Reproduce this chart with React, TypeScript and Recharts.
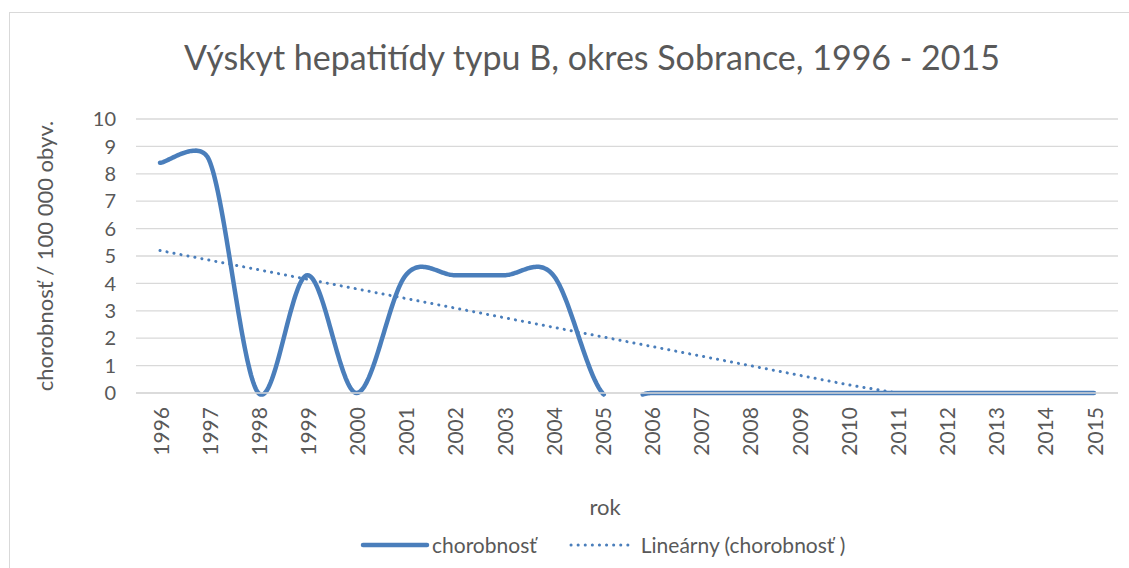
import { CartesianGrid, Label, Line, LineChart, XAxis, YAxis } from 'recharts';

const roky = [
  '1996', '1997', '1998', '1999', '2000', '2001', '2002', '2003', '2004', '2005',
  '2006', '2007', '2008', '2009', '2010', '2011', '2012', '2013', '2014', '2015',
];
const chorobnost = [8.4, 8.5, 0, 4.3, 0, 4.3, 4.3, 4.3, 4.3, 0, 0, 0, 0, 0, 0, 0, 0, 0, 0, 0];
// linear trend as drawn; below zero it is hidden by the axis
const trend = [
  5.2, 4.85, 4.5, 4.15, 3.8, 3.45, 3.1, 2.75, 2.4, 2.05,
  1.7, 1.35, 1.0, 0.65, 0.3, 0, null, null, null, null,
];
const yTicks = [0, 1, 2, 3, 4, 5, 6, 7, 8, 9, 10];

const data = roky.map((rok, i) => ({ rok, chorobnost: chorobnost[i], trend: trend[i] }));

const W = 1129;
const H = 568;
const PLOT_TOP = 119;
const PLOT_BOTTOM = 393;
const PLOT_LEFT = 136;
const PLOT_RIGHT = 1118;
const Y_AXIS_W = 60;
const X_AXIS_H = 60;

const FONT = 'Lato, "Open Sans", sans-serif';
const TEXT = '#595959';
const BLUE = '#4a7ebb';
const GRID = '#d9d9d9';

type Pt = [number, number];

function ctrl(p: Pt, prev: Pt, next: Pt, seg: number, dir: number): Pt {
  let tx = (next[0] - prev[0]) / 6;
  let ty = (next[1] - prev[1]) / 6;
  const len = Math.hypot(tx, ty);
  const cap = seg / 2;
  if (len > cap && len > 0) {
    tx *= cap / len;
    ty *= cap / len;
  }
  return [p[0] + dir * tx, p[1] + dir * ty];
}

// Excel-like smoothed line, cut off where it dips under the x axis
function excelSmooth(context: any) {
  let pts: Pt[] = [];
  const limit = PLOT_BOTTOM + 1.5;
  return {
    areaStart() {},
    areaEnd() {},
    lineStart() {
      pts = [];
    },
    point(x: number, y: number) {
      pts.push([+x, +y]);
    },
    lineEnd() {
      const n = pts.length;
      if (!n) return;
      let pen = false;
      const emit = (q: Pt) => {
        if (pen) context.lineTo(q[0], q[1]);
        else {
          context.moveTo(q[0], q[1]);
          pen = true;
        }
      };
      let prev = pts[0];
      if (prev[1] <= limit) emit(prev);
      for (let i = 0; i < n - 1; i++) {
        const p0 = pts[Math.max(i - 1, 0)];
        const p1 = pts[i];
        const p2 = pts[i + 1];
        const p3 = pts[Math.min(i + 2, n - 1)];
        const seg = Math.hypot(p2[0] - p1[0], p2[1] - p1[1]);
        const c1 = ctrl(p1, p0, p2, seg, 1);
        const c2 = ctrl(p2, p1, p3, seg, -1);
        const steps = 40;
        for (let s = 1; s <= steps; s++) {
          const t = s / steps;
          const u = 1 - t;
          const q: Pt = [
            u * u * u * p1[0] + 3 * u * u * t * c1[0] + 3 * u * t * t * c2[0] + t * t * t * p2[0],
            u * u * u * p1[1] + 3 * u * u * t * c1[1] + 3 * u * t * t * c2[1] + t * t * t * p2[1],
          ];
          const inPrev = prev[1] <= limit;
          const inQ = q[1] <= limit;
          if (inPrev && inQ) emit(q);
          else if (inPrev !== inQ) {
            const k = (limit - prev[1]) / (q[1] - prev[1]);
            const c: Pt = [prev[0] + k * (q[0] - prev[0]), limit];
            if (inPrev) {
              emit(c);
              pen = false;
            } else {
              pen = false;
              emit(c);
              emit(q);
            }
          }
          prev = q;
        }
      }
    },
  };
}

const YearTick = (props: any) => {
  const { x, y, payload } = props;
  return (
    <text
      x={x}
      y={y}
      transform={`rotate(-90, ${x}, ${y})`}
      textAnchor="end"
      dominantBaseline="central"
      fill={TEXT}
      fontSize={21}
      fontFamily={FONT}
    >
      {payload.value}
    </text>
  );
};

export default function App() {
  return (
    <div style={{ position: 'absolute', left: 0, top: 0, width: W, height: H, background: '#fff', overflow: 'hidden' }}>
      <div
        style={{
          position: 'absolute',
          left: 9,
          top: 12,
          width: W,
          height: H,
          border: `1px solid ${GRID}`,
          boxSizing: 'border-box',
        }}
      />
      <div
        style={{
          position: 'absolute',
          left: 0,
          width: 1184,
          top: 40,
          textAlign: 'center',
          fontFamily: FONT,
          fontSize: 34,
          lineHeight: '34px',
          color: TEXT,
          whiteSpace: 'nowrap',
        }}
      >
        Výskyt hepatitídy typu B, okres Sobrance, 1996 - 2015
      </div>
      <div style={{ position: 'absolute', left: 0, top: 0 }}>
        <LineChart
          width={W}
          height={H}
          data={data}
          margin={{
            top: PLOT_TOP,
            left: PLOT_LEFT - Y_AXIS_W,
            right: W - PLOT_RIGHT,
            bottom: H - PLOT_BOTTOM - X_AXIS_H,
          }}
        >
          <CartesianGrid vertical={false} stroke={GRID} strokeWidth={1.3} />
          <XAxis
            dataKey="rok"
            interval={0}
            height={X_AXIS_H}
            padding={{ left: 24, right: 24 }}
            axisLine={{ stroke: GRID, strokeWidth: 1.3 }}
            tickLine={false}
            tickMargin={8}
            tick={<YearTick />}
          >
            <Label
              value="rok"
              position="center"
              dx={-22}
              dy={84}
              fill={TEXT}
              fontSize={22}
              fontFamily={FONT}
            />
          </XAxis>
          <YAxis
            domain={[0, 10]}
            ticks={yTicks}
            interval={0}
            width={Y_AXIS_W}
            axisLine={false}
            tickLine={false}
            tickMargin={14}
            tick={{ fill: TEXT, fontSize: 20, fontFamily: FONT }}
          >
            <Label
              value="chorobnosť / 100 000 obyv."
              angle={-90}
              position="center"
              dx={-61}
              fill={TEXT}
              fontSize={22}
              fontFamily={FONT}
            />
          </YAxis>
          <Line
            dataKey="trend"
            type="linear"
            stroke={BLUE}
            strokeWidth={3}
            strokeDasharray="0.1 7"
            strokeLinecap="round"
            dot={false}
            activeDot={false}
            isAnimationActive={false}
          />
          <Line
            dataKey="chorobnost"
            type={excelSmooth as any}
            stroke={BLUE}
            strokeWidth={4.5}
            strokeLinecap="round"
            dot={false}
            activeDot={false}
            isAnimationActive={false}
          />
        </LineChart>
      </div>
      <div
        style={{
          position: 'absolute',
          left: 360,
          top: 532,
          display: 'flex',
          alignItems: 'center',
          fontFamily: FONT,
          fontSize: 21,
          color: TEXT,
          whiteSpace: 'nowrap',
        }}
      >
        <svg width={72} height={10}>
          <line x1={3} y1={5} x2={67} y2={5} stroke={BLUE} strokeWidth={4.5} strokeLinecap="round" />
        </svg>
        <span>chorobnosť</span>
        <svg width={74} height={10} style={{ marginLeft: 30 }}>
          <line x1={4} y1={5} x2={64} y2={5} stroke={BLUE} strokeWidth={3} strokeDasharray="0.1 7" strokeLinecap="round" />
        </svg>
        <span>Lineárny (chorobnosť )</span>
      </div>
    </div>
  );
}
